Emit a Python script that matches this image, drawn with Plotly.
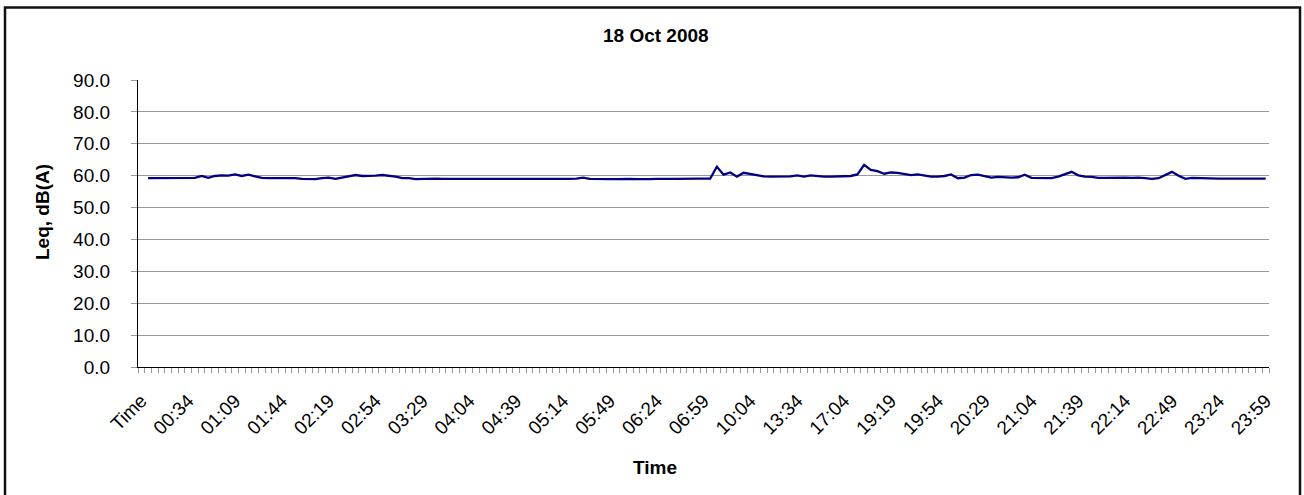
import plotly.graph_objects as go

# ---------------- data ----------------
categories = [
    "Time",
    "00:04","00:09","00:14","00:19","00:24","00:29","00:34","00:39","00:44","00:49","00:54","00:59",
    "01:04","01:09","01:14","01:19","01:24","01:29","01:34","01:39","01:44","01:49","01:54","01:59",
    "02:04","02:09","02:14","02:19","02:24","02:29","02:34","02:39","02:44","02:49","02:54","02:59",
    "03:04","03:09","03:14","03:19","03:24","03:29","03:34","03:39","03:44","03:49","03:54","03:59",
    "04:04","04:09","04:14","04:19","04:24","04:29","04:34","04:39","04:44","04:49","04:54","04:59",
    "05:04","05:09","05:14","05:19","05:24","05:29","05:34","05:39","05:44","05:49","05:54","05:59",
    "06:04","06:09","06:14","06:19","06:24","06:29","06:34","06:39","06:44","06:49","06:54","06:59",
    "07:04","07:09","07:14","07:19","09:34","09:59",
    "10:04","10:34","11:04","11:34","12:04","12:34","13:04",
    "13:34","14:04","14:34","15:04","15:34","16:04","16:34",
    "17:04","17:34","18:04","18:34","19:04","19:09","19:14",
    "19:19","19:24","19:29","19:34","19:39","19:44","19:49","19:54","19:59",
    "20:04","20:09","20:14","20:19","20:24","20:29","20:34","20:39","20:44","20:49","20:54","20:59",
    "21:04","21:09","21:14","21:19","21:24","21:29","21:34","21:39","21:44","21:49","21:54","21:59",
    "22:04","22:09","22:14","22:19","22:24","22:29","22:34","22:39","22:44","22:49","22:54","22:59",
    "23:04","23:09","23:14","23:19","23:24","23:29","23:34","23:39","23:44","23:49","23:54","23:59",
]

leq_values = [
    None,
    59.2, 59.2, 59.2, 59.2, 59.2, 59.2, 59.3, 59.3,
    59.9, 59.3, 59.9, 60.1, 60.0, 60.4, 59.9, 60.3, 59.8, 59.3,
    59.2, 59.2, 59.2, 59.3, 59.2, 59.0, 59.0, 58.9, 59.2,
    59.4, 59.0, 59.4, 59.8, 60.2, 59.9, 59.9, 60.0, 60.2, 60.0, 59.7, 59.2, 59.2, 58.9,
    59.0, 59.0, 59.1, 59.0, 59.0, 58.9, 59.0, 58.9, 58.9, 59.0, 58.9, 58.8, 58.9, 58.8,
    58.9, 58.9, 58.9, 59.0, 59.0, 58.9, 58.9, 58.9, 59.0, 59.1,
    59.4,
    59.0, 58.9, 58.9, 58.9,
    58.9, 59.0, 59.0, 58.9, 58.8, 58.9, 59.0, 58.9,
    59.0, 59.0, 59.1, 59.1, 59.1, 59.1, 59.1,
    62.8, 60.3, 61.0, 59.7, 60.9, 60.5, 60.0, 59.8, 59.7, 59.7, 59.7, 59.8, 60.1, 59.7,
    60.1, 59.8, 59.7, 59.7, 59.8, 59.8, 59.9, 60.4, 63.4, 61.8, 61.4, 60.6, 61.0,
    60.9, 60.5, 60.2, 60.4, 60.1, 59.7, 59.7, 59.9, 60.4, 59.2, 59.4, 60.2, 60.3, 59.8,
    59.4, 59.6, 59.4, 59.4, 59.5, 60.3, 59.3, 59.2, 59.2, 59.2, 59.7, 60.4, 61.2, 60.1,
    59.7, 59.6, 59.3, 59.3, 59.4, 59.4, 59.4, 59.3, 59.4, 59.2, 59.0, 59.2, 60.1, 61.2,
    60.0, 59.0, 59.3, 59.2, 59.1,
    59.1, 59.1, 59.1, 59.1, 59.0, 59.1, 59.1, 59.1, 59.1,
]

tick_labels = [
    "Time", "00:34", "01:09", "01:44", "02:19", "02:54", "03:29", "04:04", "04:39",
    "05:14", "05:49", "06:24", "06:59", "10:04", "13:34", "17:04", "19:19", "19:54",
    "20:29", "21:04", "21:39", "22:14", "22:49", "23:24", "23:59",
]

y_ticks = [0, 10, 20, 30, 40, 50, 60, 70, 80, 90]

assert len(categories) == len(leq_values) == 169

# ---------------- layout constants (pixels) ----------------
W, H = 1304, 495
PL, PR, PT, PB = 138, 1269, 80, 367     # plot area edges
FONT = "Liberation Sans, Arial, sans-serif"
FS = 19

pw, ph = PR - PL, PB - PT


def px_x(x):
    return (x - PL) / pw


def px_y(y):
    return (PB - y) / ph


fig = go.Figure()
fig.add_trace(go.Scatter(
    x=categories, y=leq_values, mode="lines",
    line=dict(color="#000080", width=2.3),
    connectgaps=False, showlegend=False, hoverinfo="x+y",
))

n = len(categories)
fig.update_layout(
    width=W, height=H,
    margin=dict(l=PL, r=W - PR, t=PT, b=H - PB, pad=0),
    paper_bgcolor="white", plot_bgcolor="white",
    font=dict(family=FONT, size=FS, color="black"),
    showlegend=False,
    xaxis=dict(
        type="category", categoryorder="array", categoryarray=categories,
        range=[-0.5, n - 0.5],
        tickmode="array", tickvals=tick_labels, ticktext=tick_labels,
        tickangle=-45, ticks="", showgrid=False, zeroline=False,
        showline=True, linecolor="black", linewidth=1.3,
        tickfont=dict(size=FS, family=FONT, color="black"),
        ticklabelstandoff=14,
    ),
    xaxis2=dict(
        overlaying="x", anchor="y", side="bottom", type="linear",
        range=[-0.5, n - 0.5], tickmode="linear", tick0=-0.5, dtick=1,
        ticks="outside", ticklen=5, tickwidth=1, tickcolor="#999999",
        showticklabels=False, showgrid=False, zeroline=False, showline=False,
    ),
    yaxis=dict(
        range=[0, 90], tickmode="array", tickvals=y_ticks, tickformat=".1f",
        ticks="outside", ticklen=6, tickcolor="#999999", tickwidth=1,
        showgrid=True, gridcolor="#999999", gridwidth=1,
        zeroline=False, showline=True, linecolor="black", linewidth=1.3,
        tickfont=dict(size=FS, family=FONT, color="black"),
        ticklabelstandoff=17,
    ),
)

# invisible anchor trace so the overlay tick axis is drawn
fig.add_trace(go.Scatter(x=[0], y=[None], xaxis="x2", yaxis="y",
                         mode="lines", showlegend=False, hoverinfo="skip"))

# Title
fig.add_annotation(text="<b>18 Oct 2008</b>", xref="paper", yref="paper",
                   x=px_x(655.5), y=px_y(36), showarrow=False,
                   xanchor="center", yanchor="middle",
                   font=dict(size=FS, family=FONT, color="black"))
# Axis titles
fig.add_annotation(text="<b>Leq, dB(A)</b>", xref="paper", yref="paper",
                   x=px_x(42), y=px_y(212), showarrow=False, textangle=-90,
                   xanchor="center", yanchor="middle",
                   font=dict(size=FS, family=FONT, color="black"))
fig.add_annotation(text="<b>Time</b>", xref="paper", yref="paper",
                   x=px_x(655), y=px_y(467), showarrow=False,
                   xanchor="center", yanchor="middle",
                   font=dict(size=FS, family=FONT, color="black"))

# Outer chart frame
fig.add_shape(type="rect", xref="paper", yref="paper",
              x0=px_x(5), x1=px_x(1300), y0=px_y(505), y1=px_y(7.5),
              line=dict(color="#111111", width=2.5), fillcolor="rgba(0,0,0,0)",
              layer="above")

fig.write_html(
    "out.html",
    config={"displayModeBar": False},
    post_script="document.body.style.margin='0px';document.body.style.overflow='hidden';",
)
